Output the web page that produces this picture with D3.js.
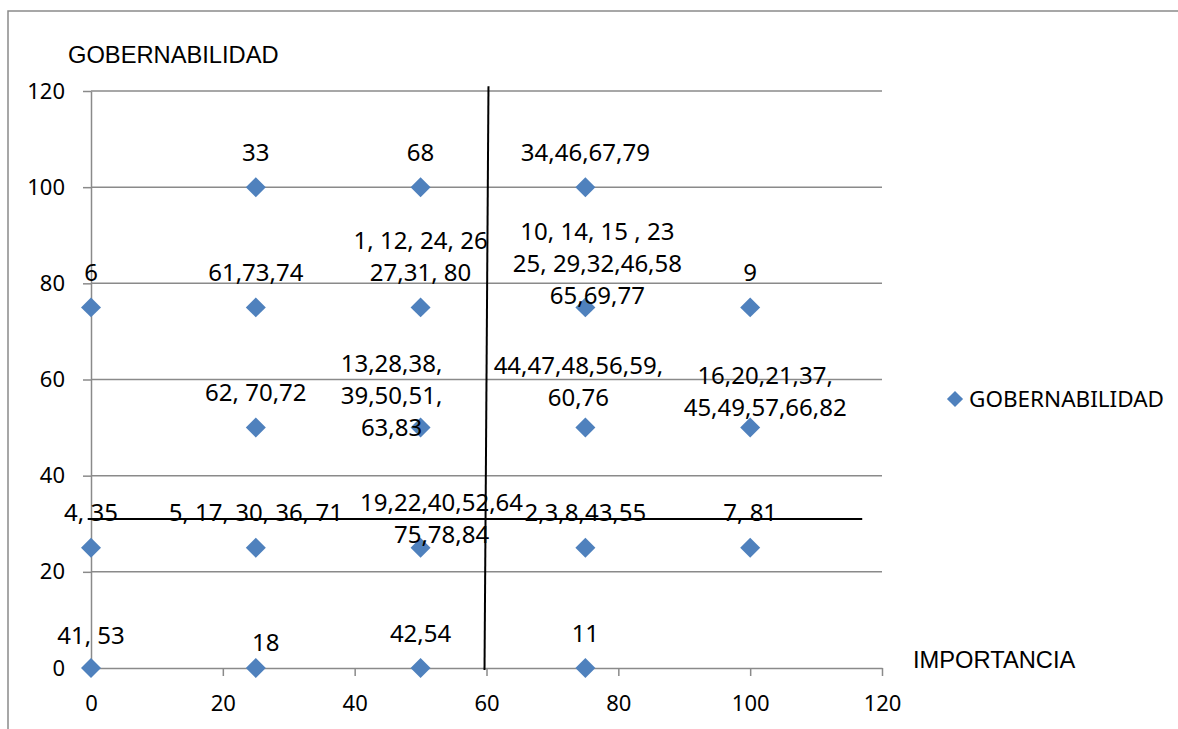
<!DOCTYPE html>
<html>
<head>
<meta charset="utf-8">
<script src="https://cdn.jsdelivr.net/npm/d3@7"></script>
<style>
  html, body { margin: 0; padding: 0; background: #ffffff; }
  svg { display: block; }
</style>
</head>
<body>
<svg id="chart" width="1178" height="729"></svg>
<script>
// Importancia (x) and gobernabilidad (y) of each group of variables
const importancia    = [0, 25, 50, 75,   0, 25, 50, 75, 100,   25, 50, 75, 100,   0, 25, 50, 75, 100,   25, 50, 75];
const gobernabilidad = [0,  0,  0,  0,  25, 25, 25, 25,  25,   50, 50, 50,  50,  75, 75, 75, 75,  75,  100, 100, 100];

// Variable numbers written next to each point (one entry per text line)
const etiquetas = [
  ["41, 53"], ["18"], ["42,54"], ["11"],
  ["4, 35"], ["5, 17, 30, 36, 71"], ["19,22,40,52,64", "75,78,84"], ["2,3,8,43,55"], ["7, 81"],
  ["62, 70,72"], ["13,28,38,", "39,50,51,", "63,83"], ["44,47,48,56,59,", "60,76"], ["16,20,21,37,", "45,49,57,66,82"],
  ["6"], ["61,73,74"], ["1, 12, 24, 26", "27,31, 80"], ["10, 14, 15 , 23", "25, 29,32,46,58", "65,69,77"], ["9"],
  ["33"], ["68"], ["34,46,67,79"]
];

const xTicks = [0, 20, 40, 60, 80, 100, 120];
const yTicks = [0, 20, 40, 60, 80, 100, 120];

const serieNombre = "GOBERNABILIDAD";
const tituloY = "GOBERNABILIDAD";
const tituloX = "IMPORTANCIA";

// Quadrant divider lines, in data units
const divisorVertical   = [[60.3, 121], [59.7, -0.4]];
const divisorHorizontal = [[-0.5, 31], [117, 31]];

// Small per-label offsets (px) so crowded labels stay readable
const ajusteEtiqueta = [
  [0, 2], [10, 9], [0, 0], [0, 0],
  [0, 0], [0, 0], [21, 22], [0, 0], [0, 0],
  [0, 0], [-29, 35], [-7, 5], [15, 15],
  [0, 0], [0, 0], [0, 0], [12, 23], [0, 0],
  [0, 0], [0, 0], [0, 0]
];

const svg = d3.select("#chart");
const plotLeft = 91, plotRight = 882, plotTop = 91, plotBottom = 668;

const x = d3.scaleLinear().domain([0, 120]).range([plotLeft, plotRight]);
const y = d3.scaleLinear().domain([0, 120]).range([plotBottom, plotTop]);

const grey = "#8a8a8a";
const blue = "#4f81bd";
const labelFont = "'Noto Sans', 'Open Sans', sans-serif";
const titleFont = "'Liberation Sans', Arial, sans-serif";

// chart area frame (top and left edges)
svg.append("path")
  .attr("d", "M8,729 V11 H1178")
  .attr("fill", "none").attr("stroke", grey).attr("stroke-width", 1.5);

// horizontal gridlines
svg.append("g").selectAll("line")
  .data(yTicks.filter(t => t > 0))
  .join("line")
  .attr("x1", x(0)).attr("x2", x(120))
  .attr("y1", d => y(d)).attr("y2", d => y(d))
  .attr("stroke", grey).attr("stroke-width", 1.5);

// y axis
const gy = svg.append("g")
  .attr("transform", `translate(${x(0)},0)`)
  .call(d3.axisLeft(y).tickValues(yTicks).tickSizeInner(8).tickSizeOuter(0).tickPadding(18));

// x axis
const gx = svg.append("g")
  .attr("transform", `translate(0,${y(0)})`)
  .call(d3.axisBottom(x).tickValues(xTicks).tickSizeInner(8).tickSizeOuter(0).tickPadding(19));

[gx, gy].forEach(g => {
  g.select(".domain").attr("stroke", grey).attr("stroke-width", 1.5);
  g.selectAll(".tick line").attr("stroke", grey).attr("stroke-width", 1.5);
  g.selectAll(".tick text")
    .attr("fill", "#000")
    .style("font-family", labelFont)
    .style("font-size", "22px");
});
gx.selectAll(".tick").filter(d => d === 0).select("line").remove();

// axis titles
svg.append("text")
  .attr("x", 68).attr("y", 63)
  .style("font-family", titleFont).style("font-size", "23.7px")
  .text(tituloY);
svg.append("text")
  .attr("x", 913).attr("y", 668)
  .style("font-family", titleFont).style("font-size", "23.7px")
  .text(tituloX);

// quadrant dividers
const lineGen = d3.line().x(d => x(d[0])).y(d => y(d[1]));
[divisorVertical, divisorHorizontal].forEach(seg => {
  svg.append("path")
    .attr("d", lineGen(seg))
    .attr("fill", "none").attr("stroke", "#000").attr("stroke-width", 2);
});

// points
const puntos = importancia.map((v, i) => ({ x: v, y: gobernabilidad[i], lines: etiquetas[i], nudge: ajusteEtiqueta[i] }));
const diamond = d3.symbol().type(d3.symbolSquare).size(200);

svg.append("g").selectAll("path")
  .data(puntos)
  .join("path")
  .attr("d", diamond)
  .attr("transform", d => `translate(${x(d.x)},${y(d.y)}) rotate(45)`)
  .attr("fill", blue);

// point labels, stacked upward from the last line
const lineStep = 32;
const labels = svg.append("g")
  .style("font-family", labelFont)
  .style("font-size", "24px")
  .attr("text-anchor", "middle");

puntos.forEach(p => {
  const n = p.lines.length;
  const cx = x(p.x) + p.nudge[0];
  const lastY = y(p.y) - 35 + p.nudge[1];
  p.lines.forEach((t, k) => {
    labels.append("text")
      .attr("x", cx)
      .attr("y", lastY - (n - 1 - k) * lineStep)
      .attr("dy", "0.36em")
      .attr("fill", "#000")
      .text(t);
  });
});

// legend
const legend = svg.append("g").attr("transform", "translate(955,399)");
legend.append("path")
  .attr("d", d3.symbol().type(d3.symbolSquare).size(130))
  .attr("transform", "rotate(45)")
  .attr("fill", blue);
legend.append("text")
  .attr("x", 14).attr("y", 0).attr("dy", "0.36em")
  .style("font-family", labelFont).style("font-size", "22.5px")
  .text(serieNombre);
</script>
</body>
</html>
